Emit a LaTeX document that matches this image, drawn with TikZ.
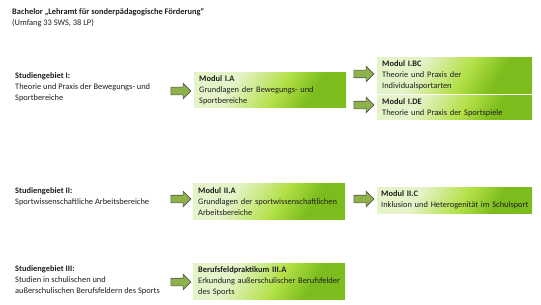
\documentclass[tikz,border=0pt]{standalone}
\usepackage{fontspec}
\setmainfont{Carlito}
\usepackage{xcolor}
\usetikzlibrary{shapes.arrows, positioning}
\definecolor{modlight}{RGB}{228,243,200}
\definecolor{modmid}{RGB}{178,224,70}
\definecolor{moddark}{RGB}{124,188,28}
\definecolor{arrfill}{RGB}{141,178,74}
\definecolor{arrline}{RGB}{85,85,85}
\definecolor{txt}{RGB}{30,30,30}
\pgfdeclarehorizontalshading{modshade}{100bp}{color(0bp)=(modlight); color(34bp)=(modlight); color(54bp)=(modmid); color(68bp)=(moddark); color(100bp)=(moddark)}

\begin{document}
\begin{tikzpicture}[
    x=1pt, y=-1pt,
    font=\fontsize{8.4}{11}\selectfont, text=txt,
    area/.style={anchor=north west, inner sep=0pt, align=left},
    modul/.style={anchor=north west, shading=modshade, shading angle=-32, text width=#1, inner xsep=5pt, inner ysep=3pt, align=left},
    modul/.default=142pt,
    blockarrow/.style={single arrow, draw=arrline, fill=arrfill, line width=0.6pt, inner xsep=0pt, inner ysep=3.5pt, minimum width=15pt, minimum height=20pt, single arrow head extend=4pt}
]
    \useasboundingbox (0,0) rectangle (541,305);

    % Title
    \node[area] (title) at (12,8) {\textbf{Bachelor „Lehramt für sonderpädagogische Förderung“}\\(Umfang 33 SWS, 38 LP)};

    % Studiengebiete
    \node[area] (sgI) at (15,72) {\textbf{Studiengebiet I:}\\Theorie und Praxis der Bewegungs- und\\Sportbereiche};
    \node[area] (sgII) at (15,187) {\textbf{Studiengebiet II:}\\Sportwissenschaftliche Arbeitsbereiche};
    \node[area] (sgIII) at (15,265) {\textbf{Studiengebiet III:}\\Studien in schulischen und\\außerschulischen Berufsfeldern des Sports};

    % Module
    \node[modul, minimum height=35pt] (mIA) at (194,72) {\textbf{Modul I.A}\\Grundlagen der Bewegungs- und\\Sportbereiche};
    \node[modul=145pt, minimum height=36pt] (mIBC) at (377,57) {\textbf{Modul I.BC}\\Theorie und Praxis der\\Individualsportarten};
    \node[modul=145pt, minimum height=23pt] (mIDE) at (377,95) {\textbf{Modul I.DE}\\Theorie und Praxis der Sportspiele};
    \node[modul, minimum height=36pt] (mIIA) at (193,183) {\textbf{Modul II.A}\\Grundlagen der sportwissenschaftlichen\\Arbeitsbereiche};
    \node[modul=147pt, inner xsep=4pt, minimum height=26pt] (mIIC) at (377,187) {\textbf{Modul II.C}\\\mbox{Inklusion und Heterogenität im Schulsport}};
    \node[modul, minimum height=36pt] (mIIIA) at (193,263) {\textbf{Berufsfeldpraktikum III.A}\\Erkundung außerschulischer Berufsfelder\\des Sports};

    % Pfeile
    \node[blockarrow] (aI) at (179,91) {};
    \node[blockarrow] (aBC) at (362,74) {};
    \node[blockarrow] (aDE) at (362,105) {};
    \node[blockarrow] (aII) at (179,199) {};
    \node[blockarrow] (aIIC) at (362,199) {};
    \node[blockarrow] (aIII) at (179,282) {};
\end{tikzpicture}
\end{document}
